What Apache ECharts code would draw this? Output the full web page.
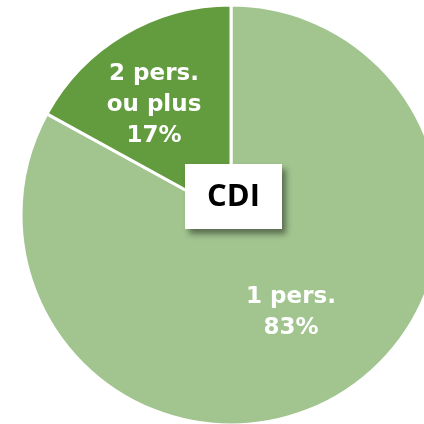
<!DOCTYPE html>
<html>
<head>
<meta charset="utf-8">
<script src="https://cdn.jsdelivr.net/npm/echarts@6/dist/echarts.min.js"></script>
<style>
  html, body { margin: 0; padding: 0; background: #fff; }
  #main { width: 424px; height: 424px; }
</style>
</head>
<body>
<div id="main"></div>
<script>
var categories = ['1 pers.', '2 pers.\nou plus']
var values = [83, 17]
var colors = ['#a2c590', '#639b3f']
var centerLabel = 'CDI'

// shift of each label from the default inside spot
var labelShift = [[5, 5], [-22, -17]]

var myChart = echarts.init(document.getElementById('main'))
var option

option = {
  animation: false,
  series: [
    {
      type: 'pie',
      center: [231, 215],
      radius: [0, 210],
      startAngle: 90,
      clockwise: true,
      data: categories.map(function (name, i) {
        return { name: name, value: values[i], itemStyle: { color: colors[i] } }
      }),
      itemStyle: {
        borderColor: '#ffffff',
        borderWidth: 3
      },
      label: {
        show: true,
        position: 'inside',
        formatter: function (p) {
          return p.name + '\n' + p.value + '%'
        },
        color: '#ffffff',
        fontFamily: 'DejaVu Sans',
        fontWeight: 'bold',
        fontSize: 23,
        lineHeight: 31,
        align: 'center'
      },
      labelLayout: function (params) {
        var s = labelShift[params.dataIndex]
        return { dx: s[0], dy: s[1] }
      },
      emphasis: { disabled: true }
    }
  ],
  graphic: [
    {
      type: 'group',
      left: 185,
      top: 164,
      z: 100,
      children: [
        {
          type: 'rect',
          z: 100,
          shape: { x: 0, y: 0, width: 97, height: 65 },
          style: {
            fill: '#ffffff',
            shadowColor: 'rgba(0,0,0,0.45)',
            shadowBlur: 6,
            shadowOffsetX: 4,
            shadowOffsetY: 5
          }
        },
        {
          type: 'text',
          z: 101,
          x: 48.5,
          y: 33,
          style: {
            text: centerLabel,
            fill: '#000000',
            fontFamily: 'Open Sans',
            fontWeight: 'bold',
            fontSize: 31,
            align: 'center',
            verticalAlign: 'middle'
          }
        }
      ]
    }
  ]
}

option && myChart.setOption(option)
</script>
</body>
</html>
